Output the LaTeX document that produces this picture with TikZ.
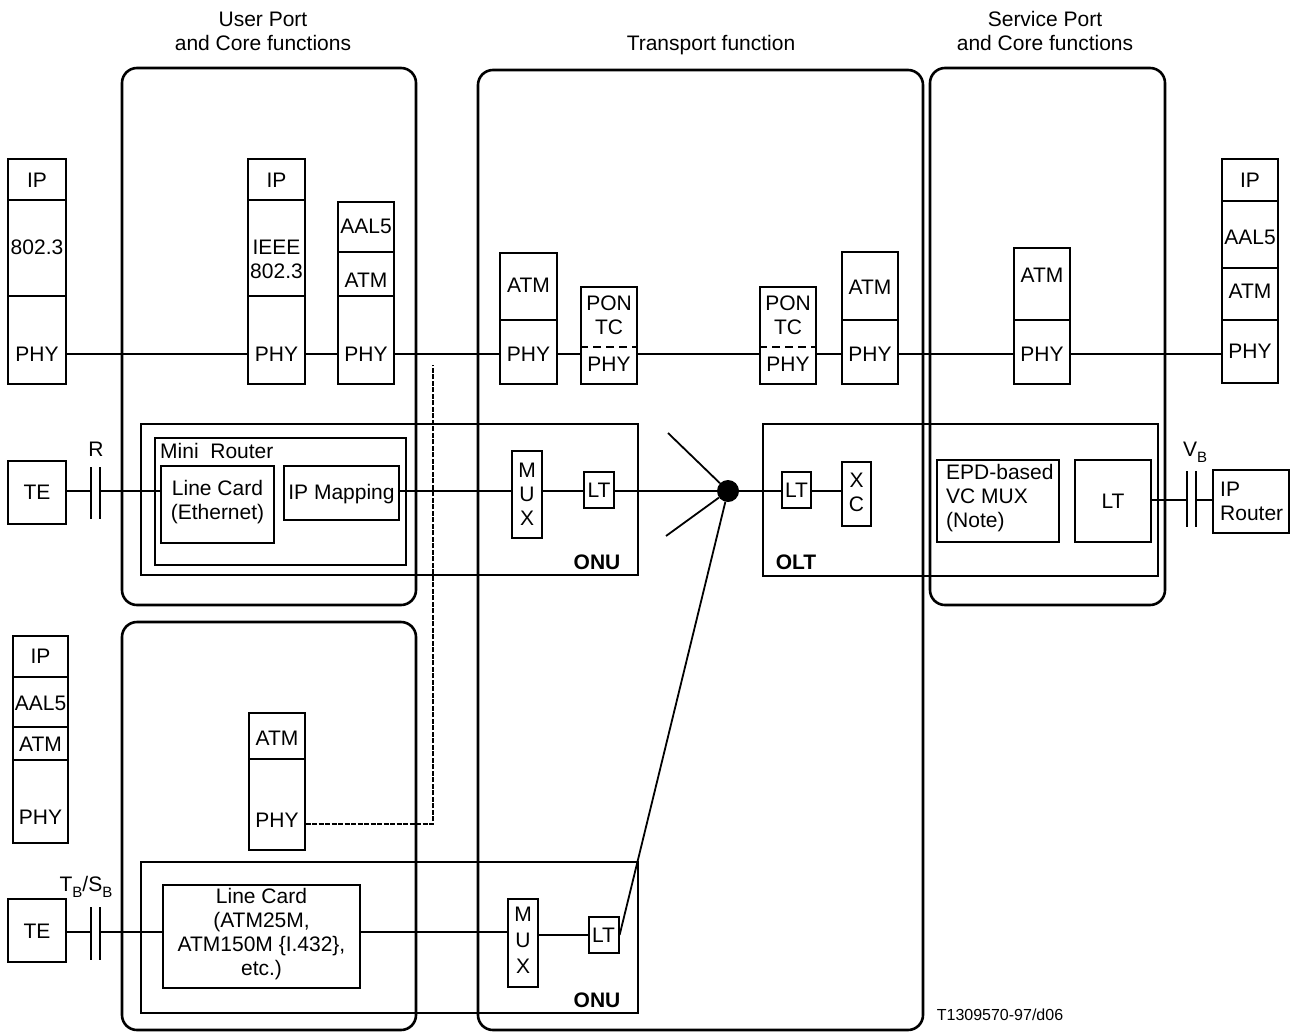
\documentclass[tikz,border=0pt]{standalone}
\usepackage{fontspec}
\setmainfont{Liberation Sans}
\usetikzlibrary{fit}
\newcommand\fs{\fontsize{21}{24}\selectfont}
\newcommand\mybox[5]{\node[lay, fit={(#2,#3)(#4,#5)}] (#1) {};}
\newcommand\myrbox[5]{\node[rbox, fit={(#2,#3)(#4,#5)}] (#1) {};}
\newcommand\subB{\raisebox{-6pt}{\fontsize{15}{15}\selectfont B}}
\begin{document}
\begin{tikzpicture}[x=1pt,y=-1pt,
 lay/.style={draw, line width=1.2pt, inner sep=0pt},
 txt/.style={font=\fs, inner sep=0pt, align=center},
 boldtxt/.style={font=\fs\bfseries, inner sep=0pt},
 rbox/.style={draw, line width=2.6pt, rounded corners=15pt, inner sep=0pt},
 wire/.style={line width=1.8pt},
 barline/.style={line width=2pt},
 pondash/.style={line width=1.8pt, dash pattern=on 8pt off 5pt},
]
\useasboundingbox (0,0) rectangle (1291,1034);

% headers
\node[txt] (h1) at (263,31) {User Port\\and Core functions};
\node[txt] (h2) at (711,45) {Transport function};
\node[txt] (h3) at (1045,31) {Service Port\\and Core functions};

% rounded function boxes
\myrbox{uc1}{122}{68}{416}{605}
\myrbox{uc2}{122}{622}{416}{1030}
\myrbox{tr}{478}{70}{923}{1030}
\myrbox{spc}{930}{68}{1165}{605}

\coordinate (row1) at (0,354);

% stack A
\mybox{aIP}{8}{159}{66}{200}
\mybox{aEth}{8}{200}{66}{296}
\mybox{aPHY}{8}{296}{66}{384}
\node[txt] (taIP) at (37,180) {IP};
\node[txt] (taEth) at (37,247) {802.3};
\node[txt] (taPHY) at (37,354) {PHY};

% stack B
\mybox{bIP}{248}{159}{305}{200}
\mybox{bEth}{248}{200}{305}{296}
\mybox{bPHY}{248}{296}{305}{384}
\node[txt] (tbIP) at (276.5,180) {IP};
\node[txt] (tbEth) at (276.5,259) {IEEE\\802.3};
\node[txt] (tbPHY) at (276.5,354) {PHY};

% stack C
\mybox{cAAL}{338}{202}{394}{252}
\mybox{cATM}{338}{252}{394}{296}
\mybox{cPHY}{338}{296}{394}{384}
\node[txt] (tcAAL) at (366,226) {AAL5};
\node[txt] (tcATM) at (366,280) {ATM};
\node[txt] (tcPHY) at (366,354) {PHY};

% stack D
\mybox{dATM}{500}{253}{557}{320}
\mybox{dPHY}{500}{320}{557}{384}
\node[txt] (tdATM) at (528.5,285) {ATM};
\node[txt] (tdPHY) at (528.5,354) {PHY};

% PON TC left
\mybox{ePON}{581}{287}{637}{384}
\draw[pondash] (ePON.west |- 0,347) -- (ePON.east |- 0,347);
\node[txt] (teTC) at (609,315) {PON\\TC};
\node[txt] (tePHY) at (609,364) {PHY};

% PON TC right
\mybox{fPON}{760}{287}{816}{384}
\draw[pondash] (fPON.west |- 0,347) -- (fPON.east |- 0,347);
\node[txt] (tfTC) at (788,315) {PON\\TC};
\node[txt] (tfPHY) at (788,364) {PHY};

% stack G
\mybox{gATM}{842}{252}{898}{320}
\mybox{gPHY}{842}{320}{898}{384}
\node[txt] (tgATM) at (870,287) {ATM};
\node[txt] (tgPHY) at (870,354) {PHY};

% stack H
\mybox{hATM}{1014}{248}{1070}{320}
\mybox{hPHY}{1014}{320}{1070}{384}
\node[txt] (thATM) at (1042,275) {ATM};
\node[txt] (thPHY) at (1042,354) {PHY};

% stack I
\mybox{iIP}{1222}{159}{1278}{201}
\mybox{iAAL}{1222}{201}{1278}{268}
\mybox{iATM}{1222}{268}{1278}{320}
\mybox{iPHY}{1222}{320}{1278}{383}
\node[txt] (tiIP) at (1250,180) {IP};
\node[txt] (tiAAL) at (1250,237) {AAL5};
\node[txt] (tiATM) at (1250,291) {ATM};
\node[txt] (tiPHY) at (1250,351) {PHY};

% top row wires
\draw[wire] (aPHY.east |- row1) -- (bPHY.west |- row1);
\draw[wire] (bPHY.east |- row1) -- (cPHY.west |- row1);
\draw[wire] (cPHY.east |- row1) -- (dPHY.west |- row1);
\draw[wire] (dPHY.east |- row1) -- (ePON.west |- row1);
\draw[wire] (ePON.east |- row1) -- (fPON.west |- row1);
\draw[wire] (fPON.east |- row1) -- (gPHY.west |- row1);
\draw[wire] (gPHY.east |- row1) -- (hPHY.west |- row1);
\draw[wire] (hPHY.east |- row1) -- (iPHY.west |- row1);

% middle row
\coordinate (row2) at (0,491);
\mybox{te1}{8}{461}{66}{524}
\node[txt] (tte1) at (37,492) {TE};
\draw[barline] (91,467) -- (91,519);
\draw[barline] (100,467) -- (100,519);
\coordinate (r1a) at (91,491);
\coordinate (r1b) at (100,491);
\node[txt] (tR) at (96,449) {R};

\mybox{onu1}{141}{424}{638}{575}
\node[boldtxt] (tonu1) at (597,562) {ONU};
\mybox{mr}{155}{438}{406}{565}
\node[txt, anchor=west] (tmr) at (160,451) {Mini\ \ Router};
\mybox{lc1}{161}{466}{274}{543}
\node[txt] (tlc1) at (217.5,502) {Line Card\\(Ethernet)};
\mybox{ipm}{284}{466}{399}{520}
\node[txt] (tipm) at (341.5,494) {IP Mapping};
\mybox{mux1}{512}{451}{542}{538}
\node[txt] (tmux1) at (527,494) {M\\U\\X};
\mybox{lt1}{584}{472}{614}{508}
\node[txt] (tlt1) at (599,490) {LT};

\draw[wire] (te1.east |- row2) -- (r1a);
\draw[wire] (r1b) -- (lc1.west |- row2);
\draw[wire] (ipm.east |- row2) -- (mux1.west |- row2);
\draw[wire] (mux1.east |- row2) -- (lt1.west |- row2);

% splitter
\coordinate (c1) at (668,433);
\coordinate (c2) at (666,536);
\node[circle, fill, inner sep=0pt, minimum size=22pt] (spl) at (728,491) {};

% OLT
\mybox{olt}{763}{424}{1158}{576}
\node[boldtxt] (tolt) at (796,562) {OLT};
\mybox{ltO}{782}{472}{811}{508}
\node[txt] (tltO) at (796.5,490) {LT};
\mybox{xc}{842}{462}{871}{526}
\node[txt] (txc) at (856.5,492) {X\\C};
\draw[wire] (ltO.east |- row2) -- (xc.west |- row2);
\mybox{epd}{937}{460}{1059}{542}
\node[txt, anchor=west, align=left] (tepd) at (946,498) {EPD-based\\VC MUX\\(Note)};
\mybox{ltS}{1075}{460}{1151}{542}
\node[txt] (tltS) at (1113,501) {LT};
\draw[barline] (1187,471) -- (1187,527);
\draw[barline] (1196,471) -- (1196,527);
\coordinate (vba) at (1187,500);
\coordinate (vbb) at (1196,500);
\node[txt] (tVB) at (1195,452) {V\subB};
\mybox{ipr}{1213}{470}{1289}{533}
\node[txt, anchor=west, align=left] (tipr) at (1220,501) {IP\\Router};
\draw[wire] (ltS.east |- vba) -- (vba);
\draw[wire] (vbb) -- (ipr.west |- vbb);

% bottom
\mybox{jIP}{13}{636}{68}{677}
\mybox{jAAL}{13}{677}{68}{727}
\mybox{jATM}{13}{727}{68}{760}
\mybox{jPHY}{13}{760}{68}{843}
\node[txt] (tjIP) at (40.5,656) {IP};
\node[txt] (tjAAL) at (40.5,703) {AAL5};
\node[txt] (tjATM) at (40.5,744) {ATM};
\node[txt] (tjPHY) at (40.5,817) {PHY};

\mybox{kATM}{249}{713}{305}{759}
\mybox{kPHY}{249}{759}{305}{850}
\node[txt] (tkATM) at (277,738) {ATM};
\node[txt] (tkPHY) at (277,820) {PHY};

\coordinate (dtop) at (433,365);
\draw[line width=2.4pt, dash pattern=on 5pt off 1.5pt] (kPHY.east |- 0,824) -| (dtop);

\coordinate (row3) at (0,932);
\mybox{te2}{8}{899}{66}{962}
\node[txt] (tte2) at (37,931) {TE};
\draw[barline] (91,907) -- (91,960);
\draw[barline] (100,907) -- (100,960);
\coordinate (r2a) at (91,932);
\coordinate (r2b) at (100,932);
\node[txt] (tTS) at (86,887) {T\subB/S\subB};

\mybox{onu2}{141}{862}{638}{1013}
\node[boldtxt] (tonu2) at (597,1000) {ONU};
\mybox{lc2}{163}{885}{360}{988}
\node[txt] (tlc2) at (261.5,934) {Line Card\\(ATM25M,\\ATM150M \{I.432\},\\etc.)};
\mybox{mux2}{508}{899}{538}{987}
\node[txt, font=\fontsize{21}{26}\selectfont] (tmux2) at (523,940) {M\\U\\X};
\mybox{lt2}{589}{917}{619}{953}
\node[txt] (tlt2) at (603.5,935) {LT};

\draw[wire] (te2.east |- row3) -- (r2a);
\draw[wire] (r2b) -- (lc2.west |- row3);
\draw[wire] (lc2.east |- row3) -- (mux2.west |- row3);
\draw[wire] (mux2.east |- 0,935) -- (lt2.west |- 0,935);

% splitter connections
\draw[wire] (lt1.east |- row2) -- (spl);
\draw[wire] (spl) -- (c1);
\draw[wire] (spl) -- (c2);
\draw[wire] (spl) -- (lt2.east);
\draw[wire] (spl) -- (ltO.west |- row2);

\node[font=\fontsize{16}{18}\selectfont, inner sep=0pt] (code) at (1000,1015) {T1309570-97/d06};
\end{tikzpicture}
\end{document}
